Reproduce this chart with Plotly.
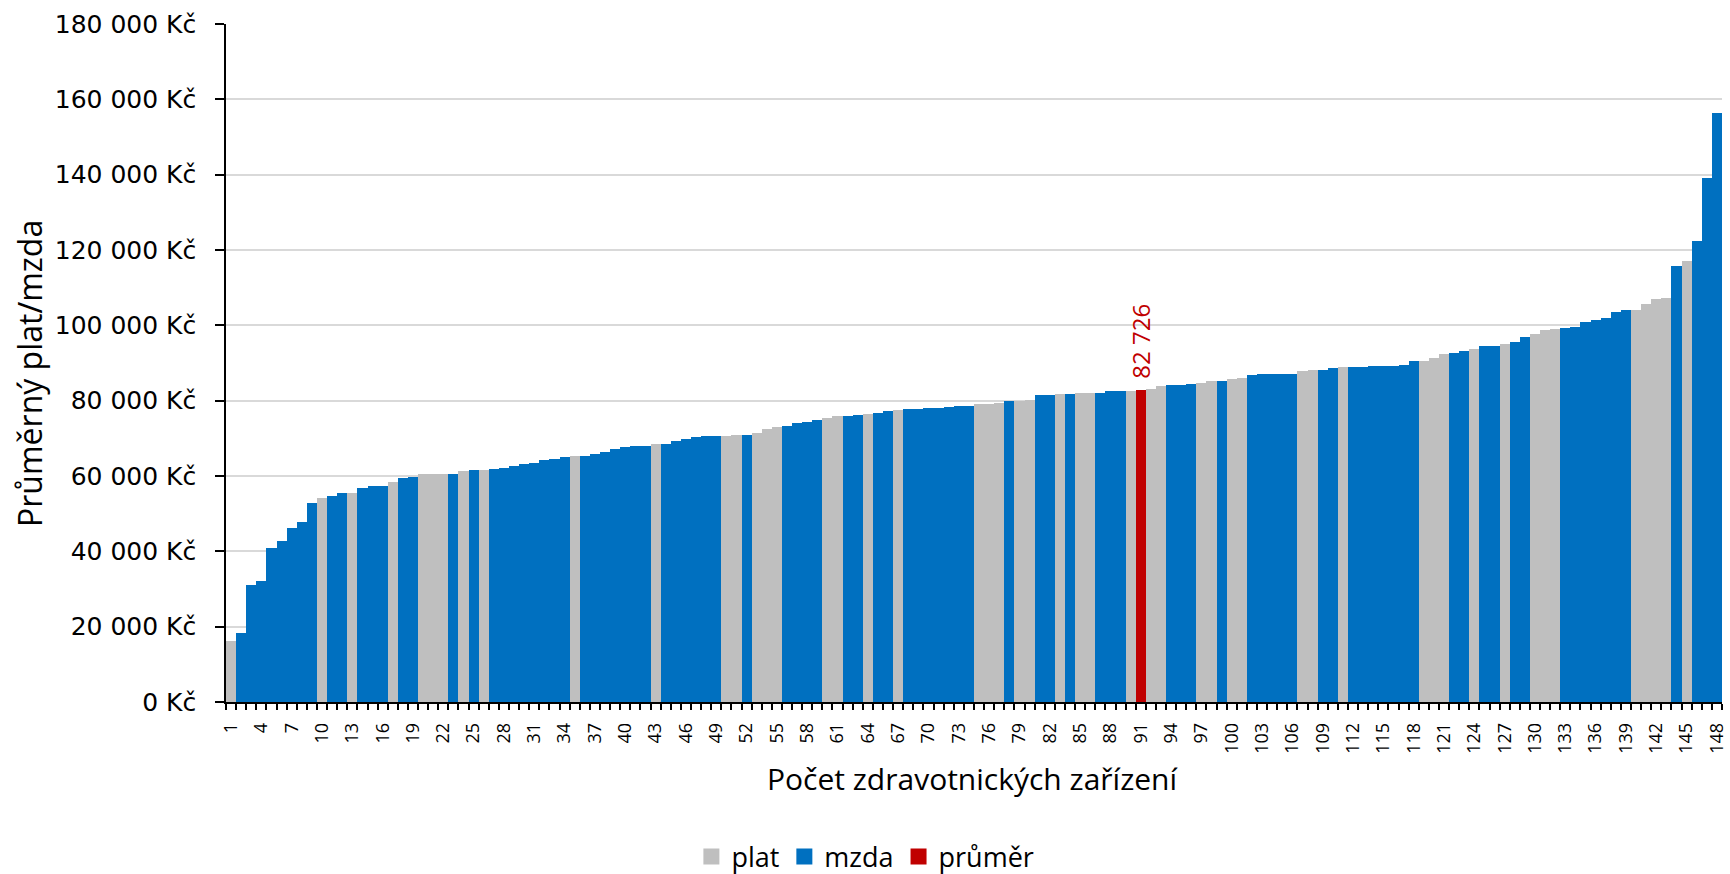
import plotly.graph_objects as go

# --- data -------------------------------------------------------------
zarizeni = list(range(1, 149))  # category numbers 1..148

hodnoty = [
    16200, 18200, 31000, 32200, 41000, 42700, 46300, 47900, 52800, 54100,
    54700, 55400, 55500, 56800, 57300, 57350, 58400, 59400, 59800, 60400,
    60500, 60550, 60600, 61300, 61500, 61700, 61800, 62100, 62700, 63100,
    63400, 64200, 64400, 65000, 65200, 65250, 65800, 66500, 67300, 67700,
    67900, 68000, 68500, 68600, 69300, 69700, 70400, 70500, 70550, 70700,
    70800, 71000, 71500, 72500, 72900, 73300, 74000, 74300, 74900, 75500,
    75800, 75900, 76300, 76500, 76600, 77300, 77600, 77850, 77900, 77950,
    78150, 78400, 78600, 78700, 79000, 79100, 79500, 79900, 80000, 80050,
    81400, 81600, 81750, 81850, 82000, 82050, 82150, 82550, 82650, 82700,
    82726, 83000, 83800, 84100, 84250, 84400, 84600, 85100, 85250, 85800,
    86100, 86800, 87050, 87100, 87150, 87200, 87900, 88050, 88250, 88750,
    88850, 88900, 88950, 89100, 89150, 89200, 89450, 90400, 90550, 91300,
    92400, 92700, 93100, 93700, 94500, 94600, 95000, 95600, 96800, 97700,
    98800, 99100, 99300, 99500, 100900, 101400, 102000, 103500, 104100, 104200,
    105600, 106900, 107300, 115800, 117000, 122300, 139000, 156400,
]

# P = plat, M = mzda, R = průměr
typ = list(
    "PMMMMMMMMP"   # 1-10
    "MMPMMMPMMP"   # 11-20
    "PPMPMPMMMM"   # 21-30
    "MMMMPMMMMM"   # 31-40
    "MMPMMMMMMP"   # 41-50
    "PMPPPMMMMP"   # 51-60
    "PMMPMMPMMM"   # 61-70
    "MMMMPPPMPP"   # 71-80
    "MMPMPPMMMP"   # 81-90
    "RPPMMMPPMP"   # 91-100
    "PMMMMMPPMM"   # 101-110
    "PMMMMMMMPP"   # 111-120
    "PMMPMMPMMP"   # 121-130
    "PPMMMMMMMP"   # 131-140
    "PPPMPMMM"     # 141-148
)

y_ticks = [0, 20000, 40000, 60000, 80000, 100000, 120000, 140000, 160000, 180000]
y_tick_text = ["0 Kč", "20 000 Kč", "40 000 Kč", "60 000 Kč", "80 000 Kč",
               "100 000 Kč", "120 000 Kč", "140 000 Kč", "160 000 Kč", "180 000 Kč"]
x_ticks = zarizeni[::3]

series = [("plat", "P", "#BFBFBF"), ("mzda", "M", "#0070C0"), ("průměr", "R", "#C00000")]

# --- figure -----------------------------------------------------------
fig = go.Figure()
for name, code, color in series:
    xs = [x for x, t in zip(zarizeni, typ) if t == code]
    ys = [v for v, t in zip(hodnoty, typ) if t == code]
    fig.add_trace(go.Bar(x=xs, y=ys, name=name, width=1, showlegend=False,
                         legendgroup=name,
                         marker=dict(color=color, line=dict(width=0)),
                         hoverinfo="x+y"))
# legend entries with larger square symbols
for name, code, color in series:
    fig.add_trace(go.Scatter(x=[None], y=[None], mode="markers", name=name,
                             legendgroup=name,
                             marker=dict(symbol="square", size=16, color=color)))

# label of average bar
for x, v, t in zip(zarizeni, hodnoty, typ):
    if t == "R":
        fig.add_annotation(x=x, y=v, text=f"{v:,}".replace(",", " "),
                           textangle=-90, showarrow=False, xanchor="center",
                           yanchor="bottom", yshift=10,
                           font=dict(family="Open Sans", size=24, color="#C00000"))

fig.update_layout(
    width=1730, height=874,
    margin=dict(l=226, r=8, t=24, b=172, autoexpand=False),
    paper_bgcolor="white", plot_bgcolor="white",
    barmode="overlay", bargap=0,
    showlegend=True,
    legend=dict(orientation="h", x=0.4274, xanchor="center",
                yref="container", y=0.0195, yanchor="middle",
                font=dict(family="Open Sans", size=27, color="black"),
                itemwidth=30, traceorder="normal"),
    xaxis=dict(range=[0.5, 148.5], tickmode="array", tickvals=x_ticks,
               ticktext=[str(v) for v in x_ticks], tickangle=-90,
               tickfont=dict(family="Open Sans", size=18, color="black"),
               ticks="", ticklabelstandoff=12, ticklabeloverflow="allow",
               minor=dict(tickmode="array", tickvals=[i + 0.5 for i in range(149)],
                          ticks="outside", ticklen=6, tickcolor="black", tickwidth=1.5),
               showline=True, linecolor="black", linewidth=1.5,
               showgrid=False, zeroline=False),
    yaxis=dict(range=[0, 180000], tickmode="array", tickvals=y_ticks,
               ticktext=y_tick_text,
               tickfont=dict(family="DejaVu Sans", size=25, color="black"),
               ticks="outside", ticklen=9, tickcolor="black", tickwidth=1.5,
               ticklabelstandoff=14,
               showline=True, linecolor="black", linewidth=1.5,
               showgrid=True, gridcolor="#D9D9D9", gridwidth=1.5, zeroline=False),
)

fig.add_annotation(text="Průměrný plat/mzda", xref="paper", yref="paper",
                   x=-0.1318, y=0.485, textangle=-90, showarrow=False,
                   xanchor="center", yanchor="middle",
                   font=dict(family="Open Sans", size=32, color="black"))
fig.add_annotation(text="Počet zdravotnických zařízení", xref="paper", yref="paper",
                   x=0.4987, y=-0.113, showarrow=False, xanchor="center", yanchor="middle",
                   font=dict(family="Open Sans", size=30, color="black"))

fig.write_html("out.html", config={"displayModeBar": False},
               post_script="document.body.style.margin='0';document.body.style.overflow='hidden';")
